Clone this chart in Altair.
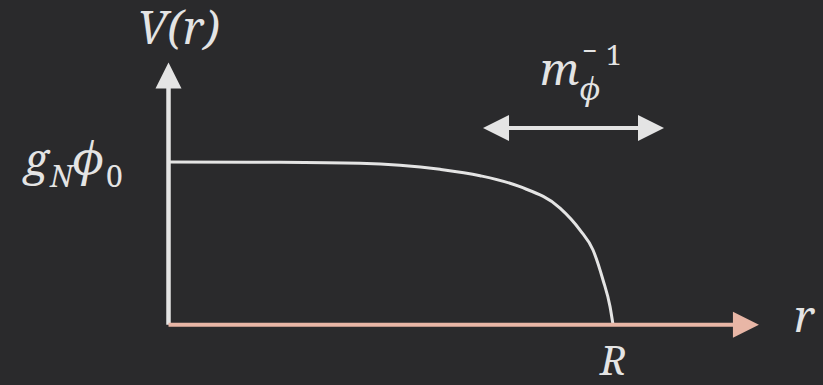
import altair as alt
import pandas as pd

# Potential profile V(r): r in units of R, V in units of g_N*phi_0
r_vals = [0.0, 0.2508, 0.4308, 0.5208, 0.6108, 0.7008, 0.7908, 0.8808, 0.9258, 0.955, 0.9775, 0.9933, 1.0]
v_vals = [1.0, 0.998, 0.992, 0.980, 0.955, 0.916, 0.848, 0.717, 0.582, 0.459, 0.275, 0.111, 0.0]

# Axis extents and arrow positions (same units)
y_axis_top = 1.455
y_arrow_v = 1.531
x_axis_end = 1.27
x_arrow_r = 1.299
# Range arrow marking the scale m_phi^-1
range_v = 1.209
range_r = [0.7368, 1.0855]

X_DOMAIN = [-0.3791, 1.4724]
Y_DOMAIN = [-0.3706, 1.9957]

WHITE = "#e4e4e4"
PINK = "#e8b6a6"
BG = "#2a2a2c"
FONT = "Noto Serif"

xs = alt.Scale(domain=X_DOMAIN, nice=False, zero=False)
ys = alt.Scale(domain=Y_DOMAIN, nice=False, zero=False)

TRI_UP = "M0,-1L1,1L-1,1Z"
TRI_RIGHT = "M1,0L-1,-1L-1,1Z"
TRI_LEFT = "M-1,0L1,-1L1,1Z"

curve_df = pd.DataFrame({"r": r_vals, "V": v_vals})

curve = alt.Chart(curve_df).mark_line(
    color=WHITE, strokeWidth=3, interpolate="monotone"
).encode(
    x=alt.X("r:Q", scale=xs, axis=None),
    y=alt.Y("V:Q", scale=ys, axis=None),
)

# vertical axis with arrow head
yaxis_df = pd.DataFrame({"r": [0.0], "v0": [0.0], "v1": [y_axis_top]})
yaxis = alt.Chart(yaxis_df).mark_rule(color=WHITE, strokeWidth=4.5).encode(
    x=alt.X("r:Q", scale=xs, axis=None),
    y=alt.Y("v0:Q", scale=ys, axis=None),
    y2="v1:Q",
)
yhead = alt.Chart(pd.DataFrame({"r": [0.0], "V": [y_arrow_v]})).mark_point(
    shape=TRI_UP, size=676, filled=True, opacity=1, color=WHITE, strokeWidth=0
).encode(
    x=alt.X("r:Q", scale=xs, axis=None),
    y=alt.Y("V:Q", scale=ys, axis=None),
)

# horizontal axis with arrow head
xaxis_df = pd.DataFrame({"r0": [0.0], "r1": [x_axis_end], "V": [0.0]})
xaxis = alt.Chart(xaxis_df).mark_rule(color=PINK, strokeWidth=4).encode(
    x=alt.X("r0:Q", scale=xs, axis=None),
    x2="r1:Q",
    y=alt.Y("V:Q", scale=ys, axis=None),
)
xhead = alt.Chart(pd.DataFrame({"r": [x_arrow_r], "V": [0.0]})).mark_point(
    shape=TRI_RIGHT, size=676, filled=True, opacity=1, color=PINK, strokeWidth=0
).encode(
    x=alt.X("r:Q", scale=xs, axis=None),
    y=alt.Y("V:Q", scale=ys, axis=None),
)

# double-headed range arrow
range_line = alt.Chart(pd.DataFrame({"r0": [range_r[0]], "r1": [range_r[1]], "V": [range_v]})).mark_rule(
    color=WHITE, strokeWidth=4
).encode(
    x=alt.X("r0:Q", scale=xs, axis=None),
    x2="r1:Q",
    y=alt.Y("V:Q", scale=ys, axis=None),
)
range_heads = alt.Chart(pd.DataFrame({
    "r": range_r, "V": [range_v, range_v], "side": ["left", "right"]
})).mark_point(filled=True, size=676, opacity=1, color=WHITE, strokeWidth=0).encode(
    x=alt.X("r:Q", scale=xs, axis=None),
    y=alt.Y("V:Q", scale=ys, axis=None),
    shape=alt.Shape("side:N", scale=alt.Scale(domain=["left", "right"], range=[TRI_LEFT, TRI_RIGHT]), legend=None),
)


def label(text, x, y, size, italic=True):
    kw = dict(font=FONT, fontSize=size, color=WHITE, align="left", baseline="alphabetic", text=text)
    if italic:
        kw["fontStyle"] = "italic"
    return alt.Chart(pd.DataFrame({"t": [text]})).mark_text(**kw).encode(
        x=alt.value(x), y=alt.value(y)
    )


labels = [
    label("V(r)", 137, 44, 45),
    label("r", 794, 332, 44),
    label("R", 600, 375, 40),
    label("g", 24, 175, 44),
    label("N", 50, 187, 30),
    label("ϕ", 73, 175, 46),
    label("0", 106, 187, 30, italic=False),
    label("m", 540, 85, 44),
    label("ϕ", 580, 100, 30),
    label("−", 582, 60, 26, italic=False),
    label("1", 606, 65, 28, italic=False),
]

chart = alt.layer(
    curve, yaxis, yhead, xaxis, xhead, range_line, range_heads, *labels
).properties(
    width=823, height=385, padding=0,
    autosize=alt.AutoSizeParams(type="none"),
    background=BG,
).configure_view(strokeWidth=0)

chart.save("out.html", embed_options={"renderer": "svg", "actions": False})
